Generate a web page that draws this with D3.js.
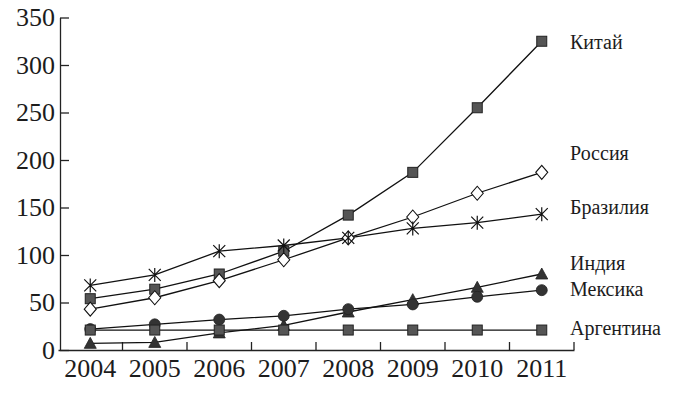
<html>
<head>
<meta charset="utf-8">
<script src="https://cdn.jsdelivr.net/npm/d3@7"></script>
<style>
  body { margin: 0; background: #fff; }
  text { font-family: "Liberation Serif", "DejaVu Serif", serif; fill: #1c1c1c; }
</style>
</head>
<body>
<script>
// years on the x axis
var years = [2004, 2005, 2006, 2007, 2008, 2009, 2010, 2011];
var yTicks = [0, 50, 100, 150, 200, 250, 300, 350];

// series values
var china     = [54, 64, 80, 104, 142, 187, 255, 325];
var russia    = [43, 55, 73, 95, 118, 140, 165, 187];
var brazil    = [68, 79, 104, 110, 118, 128, 134, 143];
var india     = [7, 8, 18, 26, 40, 53, 66, 80];
var mexico    = [22, 27, 32, 36, 43, 48, 56, 63];
var argentina = [21, 21, 21, 21, 21, 21, 21, 21];

var names   = ["Китай", "Россия", "Бразилия", "Индия", "Мексика", "Аргентина"];
var series  = [china, russia, brazil, india, mexico, argentina];
var markers = ["square", "diamond", "star", "triangle", "circle", "square"];
var labelY  = [49, 160, 214, 270, 296, 335];

var width = 683, height = 397;
var svg = d3.select("body").append("svg")
    .attr("width", width)
    .attr("height", height);

var x = d3.scaleBand().domain(years).range([58, 574]).padding(0);
var y = d3.scaleLinear().domain([0, 350]).range([350, 17.5]);

// y axis, ticks pointing inward
var yAxis = svg.append("g")
    .attr("transform", "translate(60,0)")
    .call(d3.axisLeft(y).tickValues(yTicks).tickSizeInner(-9).tickSizeOuter(0).tickPadding(5));
yAxis.attr("font-family", "Liberation Serif").attr("font-size", 26);
yAxis.selectAll("text").attr("fill", "#1c1c1c");
yAxis.selectAll("line, path").attr("stroke", "#222").attr("stroke-width", 1.3);

// x axis with labels under band centres
var xAxis = svg.append("g")
    .attr("transform", "translate(0,350)")
    .call(d3.axisBottom(x).tickSize(0).tickSizeOuter(0).tickPadding(9));
xAxis.attr("font-family", "Liberation Serif").attr("font-size", 26);
xAxis.selectAll("text").attr("fill", "#1c1c1c").attr("dy", "0.71em");
xAxis.select("path").attr("stroke", "#222").attr("stroke-width", 1.3);

// tick marks at the band edges, pointing up
var edges = years.map(function(d) { return x(d); }).concat([x.range()[1]]);
svg.append("g").selectAll("line")
    .data(edges.slice(1))
    .enter().append("line")
    .attr("x1", function(d) { return d; })
    .attr("x2", function(d) { return d; })
    .attr("y1", 350)
    .attr("y2", 342)
    .attr("stroke", "#222")
    .attr("stroke-width", 1.3);

var line = d3.line()
    .x(function(d, i) { return x(years[i]) + x.bandwidth() / 2; })
    .y(function(d) { return y(d); });

series.forEach(function(vals, k) {
  svg.append("path")
      .datum(vals)
      .attr("d", line)
      .attr("fill", "none")
      .attr("stroke", "#111")
      .attr("stroke-width", 1.3);
});

function drawMarker(g, type) {
  if (type == "square") {
    g.append("rect").attr("x", -5).attr("y", -5).attr("width", 10).attr("height", 10)
      .attr("fill", "#555").attr("stroke", "#222").attr("stroke-width", 1);
  } else if (type == "diamond") {
    g.append("path").attr("d", "M0,-7L6,0L0,7L-6,0Z")
      .attr("fill", "#fff").attr("stroke", "#111").attr("stroke-width", 1.1);
  } else if (type == "star") {
    g.append("path").attr("d", "M-6,-6L6,6M-6,6L6,-6M0,-7L0,7")
      .attr("fill", "none").attr("stroke", "#111").attr("stroke-width", 1.2);
  } else if (type == "triangle") {
    g.append("path").attr("d", "M0,-6L6,5L-6,5Z")
      .attr("fill", "#333").attr("stroke", "#222").attr("stroke-width", 0.8);
  } else if (type == "circle") {
    g.append("circle").attr("r", 5.5)
      .attr("fill", "#333").attr("stroke", "#222").attr("stroke-width", 0.8);
  }
}

series.forEach(function(vals, k) {
  svg.append("g").selectAll("g")
      .data(vals)
      .enter().append("g")
      .attr("transform", function(d, i) {
        return "translate(" + (x(years[i]) + x.bandwidth() / 2) + "," + y(d) + ")";
      })
      .each(function() { drawMarker(d3.select(this), markers[k]); });
});

// series names on the right
svg.append("g").selectAll("text")
    .data(names)
    .enter().append("text")
    .attr("x", 570)
    .attr("y", function(d, i) { return labelY[i]; })
    .attr("font-size", 20)
    .text(function(d) { return d; });
</script>
</body>
</html>
